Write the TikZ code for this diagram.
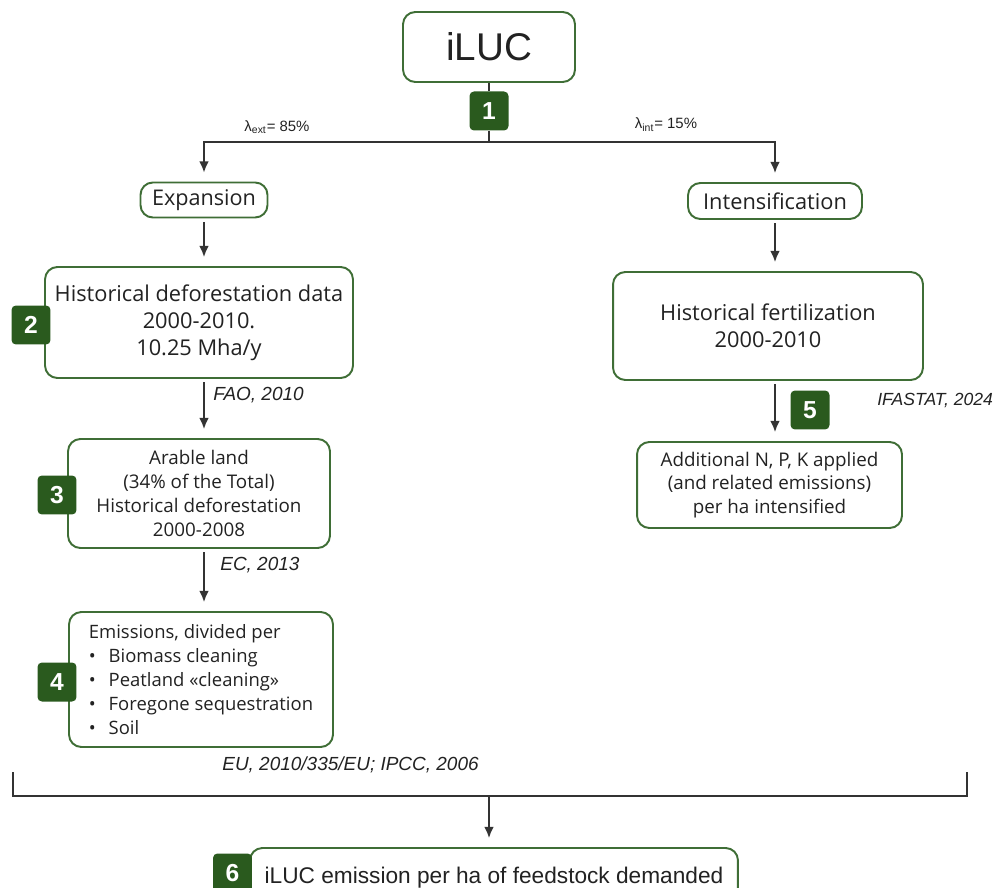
\documentclass[tikz,border=0pt]{standalone}
\usepackage{fontspec}
\setmainfont{Open Sans}
\newfontfamily\arialfont{Liberation Sans}
\usepackage{xcolor}
\usepackage{tikz}
\usetikzlibrary{arrows.meta,calc,positioning}
\definecolor{boxgreen}{HTML}{3F6E36}
\definecolor{badgegreen}{HTML}{2A5A1E}
\definecolor{linegray}{HTML}{333333}
\definecolor{txtgray}{HTML}{222222}

\begin{document}
\begin{tikzpicture}[x=0.02cm,y=-0.02cm,
	box/.style={draw=boxgreen,line width=1.1pt,rounded corners=7pt,fill=white,align=center,inner sep=2pt,text=txtgray},
	badge/.style={fill=badgegreen,rounded corners=2.5pt,minimum size=0.78cm,inner sep=0pt,text=white,font=\arialfont\bfseries\fontsize{14}{14}\selectfont},
	flow/.style={draw=linegray,line width=1.3pt,-{Latex[length=2.3mm,width=2mm]},shorten >=5pt,shorten <=2pt},
	link/.style={draw=linegray,line width=1.3pt},
	ref/.style={anchor=west,inner sep=0pt,text=txtgray,font=\arialfont\itshape\fontsize{10.8}{12}\selectfont},
	lam/.style={inner sep=0pt,text=txtgray,font=\arialfont\fontsize{8.5}{10}\selectfont}]
	\useasboundingbox (0,0) rectangle (997,888);
	\clip (0,0) rectangle (997,888);
	% top
	\node[box,minimum width=3.44cm,minimum height=1.4cm,font=\arialfont\fontsize{22}{24}\selectfont] (iluc) at (489,47) {iLUC};
	\node[badge] (b1) at (489,111) {1};
	\coordinate (split) at (489,142);
	\node[lam] (lamext) at (277,127) {λ\textsubscript{ext}= 85\%};
	\node[lam] (lamint) at (666,125) {λ\textsubscript{int}= 15\%};
	\node[box,minimum width=2.54cm,minimum height=0.7cm,font=\fontsize{12.3}{13}\selectfont] (expand) at (204,200) {Expansion};
	\node[box,minimum width=3.48cm,minimum height=0.72cm,font=\fontsize{12.4}{13}\selectfont] (intens) at (775,201) {Intensification};
	% expansion side
	\node[box,minimum width=6.16cm,minimum height=2.22cm,font=\fontsize{12.4}{15.3}\selectfont] (defor) at (199,322.5) {Historical deforestation data\\2000-2010.\\10.25 Mha/y};
	\node[badge] (b2) at (31,325) {2};
	\node[ref] (rfao) at (213,395) {FAO, 2010};
	\node[box,minimum width=5.24cm,minimum height=2.18cm,font=\fontsize{10.7}{13.6}\selectfont] (arable) at (199,493.5) {Arable land\\(34\% of the Total)\\Historical deforestation\\2000-2008};
	\node[badge] (b3) at (57,495) {3};
	\node[ref] (rec) at (220,565) {EC, 2013};
	\node[box,minimum width=5.28cm,minimum height=2.7cm,align=left,font=\fontsize{10.5}{13.6}\selectfont] (emis) at (201,679.5) {Emissions, divided per\\
		\textbullet\hspace{0.7em}Biomass cleaning\\
		\textbullet\hspace{0.7em}Peatland «cleaning»\\
		\textbullet\hspace{0.7em}Foregone sequestration\\
		\textbullet\hspace{0.7em}Soil};
	\node[badge] (b4) at (57,682) {4};
	\node[ref] (reu) at (222,765) {EU, 2010/335/EU; IPCC, 2006};
	% intensification side
	\node[box,minimum width=6.2cm,minimum height=2.16cm,font=\fontsize{12.4}{15.3}\selectfont] (fert) at (768,326) {Historical fertilization\\2000-2010};
	\node[box,minimum width=5.3cm,minimum height=1.72cm,font=\fontsize{10.7}{13.3}\selectfont] (npk) at (769.5,485) {Additional N, P, K applied\\(and related emissions)\\per ha intensified};
	\node[badge] (b5) at (810,410) {5};
	\node[ref,font=\arialfont\itshape\fontsize{10}{12}\selectfont] (rifa) at (877,400) {IFASTAT, 2024};
	% bottom
	\node[box,minimum width=9.76cm,minimum height=1.2cm,font=\arialfont\fontsize{12.9}{14}\selectfont] (result) at (494,878) {\raisebox{0.35ex}{iLUC emission per ha of feedstock demanded}};
	\node[badge] (b6) at (232.5,873) {6};
	\coordinate (brl) at (13,772);
	\coordinate (brr) at (967,772);
	\coordinate (brm) at (489,796);
	% connectors
	\draw[link] (iluc.south) -- (b1.north);
	\draw[link] (b1.south) -- (split);
	\draw[flow,shorten <=0pt] (split) -| (expand.north);
	\draw[flow,shorten <=0pt] (split) -| (intens.north);
	\draw[flow] (expand.south) -- (expand.south |- defor.north);
	\draw[flow] (expand.south |- defor.south) -- (expand.south |- arable.north);
	\draw[flow] (expand.south |- arable.south) -- (expand.south |- emis.north);
	\draw[flow] (intens.south) -- (intens.south |- fert.north);
	\draw[flow] (intens.south |- fert.south) -- (intens.south |- npk.north);
	\draw[link] (brl) |- (brm) -| (brr);
	\draw[flow,shorten <=0pt] (brm) -- (brm |- result.north);
\end{tikzpicture}
\end{document}
